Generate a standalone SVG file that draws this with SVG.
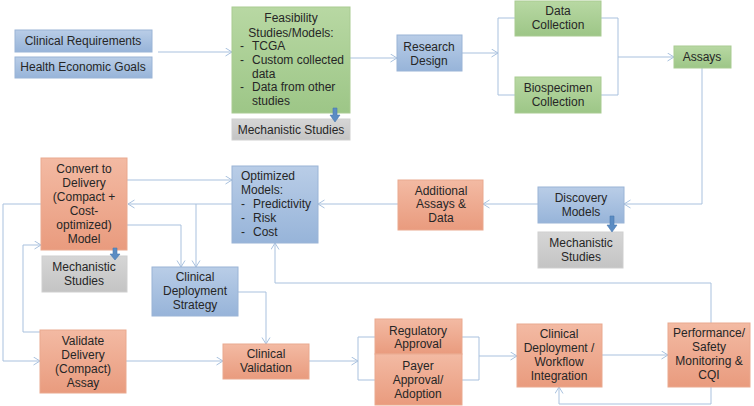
<svg xmlns="http://www.w3.org/2000/svg" width="754" height="406" viewBox="0 0 754 406">
<defs>
<linearGradient id="gb" x1="0" y1="0" x2="0" y2="1"><stop offset="0" stop-color="#b9cde7"/><stop offset="1" stop-color="#97b4d9"/></linearGradient>
<linearGradient id="gg" x1="0" y1="0" x2="0" y2="1"><stop offset="0" stop-color="#b8d8a3"/><stop offset="1" stop-color="#9dc687"/></linearGradient>
<linearGradient id="go" x1="0" y1="0" x2="0" y2="1"><stop offset="0" stop-color="#f3baa3"/><stop offset="1" stop-color="#e99b7e"/></linearGradient>
<linearGradient id="gy" x1="0" y1="0" x2="0" y2="1"><stop offset="0" stop-color="#d6d6d6"/><stop offset="1" stop-color="#c4c4c4"/></linearGradient>
<marker id="ah" markerWidth="8" markerHeight="10" refX="7" refY="4.5" orient="auto" markerUnits="userSpaceOnUse">
<path d="M0.5,0.5 L7,4.5 L0.5,8.5" fill="none" stroke="#a9c1de" stroke-width="1"/>
</marker>
</defs>
<style>
.b{fill:url(#gb);stroke:#9ab4d6;stroke-width:1}
.g{fill:url(#gg);stroke:#a9cb92;stroke-width:1}
.o{fill:url(#go);stroke:#eaa98f;stroke-width:1}
.y{fill:url(#gy);stroke:#cfcfcf;stroke-width:1}
text{font-family:"Liberation Sans",Arial,sans-serif;font-size:12px;fill:#262626}
.c{text-anchor:middle}
.ln{fill:none;stroke:#a9c1de;stroke-width:1}
.ar{marker-end:url(#ah)}
.da{fill:#5b8cc3;stroke:#4a79b0;stroke-width:0.6}
</style>
<rect width="754" height="406" fill="#ffffff"/>

<g id="connectors">
<path class="ln ar" d="M158,52 L232,52"/>
<path class="ln ar" d="M350,58 L397,58"/>
<path class="ln ar" d="M462,53 L498,53"/>
<path class="ln" d="M515,18 L498,18 L498,95 L515,95"/>
<path class="ln" d="M601,18 L618,18 L618,95 L601,95"/>
<path class="ln ar" d="M618,57 L674,57"/>
<path class="ln ar" d="M702,68 L702,204 L624,204"/>
<path class="ln ar" d="M538,204 L483,204"/>
<path class="ln ar" d="M398,204 L318,204"/>
<path class="ln ar" d="M127,180 L232,180"/>
<path class="ln ar" d="M232,204 L128,204"/>
<path class="ln ar" d="M196,204 L196,267"/>
<path class="ln ar" d="M127,225 L181,225 L181,267"/>
<path class="ln ar" d="M238,292 L266,292 L266,344"/>
<path class="ln ar" d="M40,332 L23,332 L23,245 L41,245"/>
<path class="ln ar" d="M41,204 L3,204 L3,361 L40,361"/>
<path class="ln ar" d="M126,361 L223,361"/>
<path class="ln ar" d="M309,361 L358,361"/>
<path class="ln" d="M375,337 L358,337 L358,380 L375,380"/>
<path class="ln" d="M462,337 L479,337 L479,380 L462,380"/>
<path class="ln ar" d="M479,356 L517,356"/>
<path class="ln ar" d="M602,355 L668,355"/>
<path class="ln ar" d="M711,323 L711,283 L275,283 L275,243"/>
<path class="ln ar" d="M711,387 L711,404 L559,404 L559,387"/>
</g>

<g id="clinical-requirements">
<rect class="b" x="15" y="30" width="137" height="22"/>
<text class="c" x="83" y="45">Clinical Requirements</text>
</g>
<g id="health-economic-goals">
<rect class="b" x="15" y="57" width="137" height="21"/>
<text class="c" x="83" y="71">Health Economic Goals</text>
</g>

<g id="feasibility">
<rect class="g" x="232" y="7" width="118" height="106"/>
<text class="c" x="291" y="22">Feasibility</text>
<text class="c" x="291" y="37">Studies/Models:</text>
<text x="240" y="50">-</text><text x="252" y="50">TCGA</text>
<text x="240" y="64">-</text><text x="252" y="64">Custom collected</text>
<text x="252" y="78">data</text>
<text x="240" y="91">-</text><text x="252" y="91">Data from other</text>
<text x="252" y="105">studies</text>
</g>
<g id="mechanistic-1">
<rect class="y" x="232" y="119" width="118" height="21"/>
<text class="c" x="291" y="134">Mechanistic Studies</text>
<path class="da" d="M333,108 L337,108 L337,115 L340,115 L335,122 L330,115 L333,115 Z"/>
</g>

<g id="research-design">
<rect class="b" x="397" y="35" width="65" height="36"/>
<text class="c" x="429" y="51">Research</text>
<text class="c" x="429" y="65">Design</text>
</g>
<g id="data-collection">
<rect class="g" x="515" y="1" width="86" height="35"/>
<text class="c" x="558" y="15">Data</text>
<text class="c" x="558" y="29">Collection</text>
</g>
<g id="biospecimen-collection">
<rect class="g" x="515" y="77" width="86" height="36"/>
<text class="c" x="558" y="92">Biospecimen</text>
<text class="c" x="558" y="106">Collection</text>
</g>
<g id="assays">
<rect class="g" x="674" y="46" width="57" height="22"/>
<text class="c" x="702" y="61">Assays</text>
</g>

<g id="discovery-models">
<rect class="b" x="538" y="187" width="86" height="36"/>
<text class="c" x="581" y="202">Discovery</text>
<text class="c" x="581" y="216">Models</text>
</g>
<g id="mechanistic-3">
<rect class="y" x="538" y="232" width="85" height="36"/>
<text class="c" x="581" y="247">Mechanistic</text>
<text class="c" x="581" y="261">Studies</text>
<path class="da" d="M610,216 L614,216 L614,225 L617,225 L612,232 L607,225 L610,225 Z"/>
</g>

<g id="additional-assays">
<rect class="o" x="398" y="180" width="85" height="50"/>
<text class="c" x="441" y="195">Additional</text>
<text class="c" x="441" y="208">Assays &amp;</text>
<text class="c" x="441" y="222">Data</text>
</g>

<g id="optimized-models">
<rect class="b" x="232" y="166" width="86" height="77"/>
<text x="241" y="180">Optimized</text>
<text x="241" y="194">Models:</text>
<text x="241" y="208">-</text><text x="253" y="208">Predictivity</text>
<text x="241" y="222">-</text><text x="253" y="222">Risk</text>
<text x="241" y="236">-</text><text x="253" y="236">Cost</text>
</g>

<g id="convert-to-delivery">
<rect class="o" x="41" y="158" width="86" height="92"/>
<text class="c" x="84" y="173">Convert to</text>
<text class="c" x="84" y="187">Delivery</text>
<text class="c" x="84" y="201">(Compact +</text>
<text class="c" x="84" y="215">Cost-</text>
<text class="c" x="84" y="229">optimized)</text>
<text class="c" x="84" y="243">Model</text>
</g>
<g id="mechanistic-2">
<rect class="y" x="42" y="256" width="85" height="36"/>
<text class="c" x="84" y="271">Mechanistic</text>
<text class="c" x="84" y="285">Studies</text>
<path class="da" d="M113,248 L117,248 L117,254 L120,254 L115,260 L110,254 L113,254 Z"/>
</g>

<g id="clinical-deployment-strategy">
<rect class="b" x="152" y="267" width="86" height="49"/>
<text class="c" x="195" y="281">Clinical</text>
<text class="c" x="195" y="295">Deployment</text>
<text class="c" x="195" y="309">Strategy</text>
</g>

<g id="validate-delivery">
<rect class="o" x="40" y="330" width="86" height="63"/>
<text class="c" x="83" y="345">Validate</text>
<text class="c" x="83" y="359">Delivery</text>
<text class="c" x="83" y="373">(Compact)</text>
<text class="c" x="83" y="387">Assay</text>
</g>

<g id="clinical-validation">
<rect class="o" x="223" y="344" width="86" height="35"/>
<text class="c" x="266" y="358">Clinical</text>
<text class="c" x="266" y="372">Validation</text>
</g>

<g id="regulatory-approval">
<rect class="o" x="375" y="319" width="87" height="35"/>
<text class="c" x="418" y="335">Regulatory</text>
<text class="c" x="418" y="348">Approval</text>
</g>
<g id="payer-approval">
<rect class="o" x="375" y="354" width="87" height="51"/>
<text class="c" x="418" y="370">Payer</text>
<text class="c" x="418" y="384">Approval/</text>
<text class="c" x="418" y="398">Adoption</text>
</g>

<g id="clinical-deployment-workflow">
<rect class="o" x="517" y="324" width="85" height="63"/>
<text class="c" x="559" y="338">Clinical</text>
<text class="c" x="559" y="352">Deployment /</text>
<text class="c" x="559" y="366">Workflow</text>
<text class="c" x="559" y="380">Integration</text>
</g>

<g id="performance-monitoring">
<rect class="o" x="668" y="323" width="82" height="64"/>
<text class="c" x="709" y="337">Performance/</text>
<text class="c" x="709" y="351">Safety</text>
<text class="c" x="709" y="365">Monitoring &amp;</text>
<text class="c" x="709" y="379">CQI</text>
</g>
</svg>
